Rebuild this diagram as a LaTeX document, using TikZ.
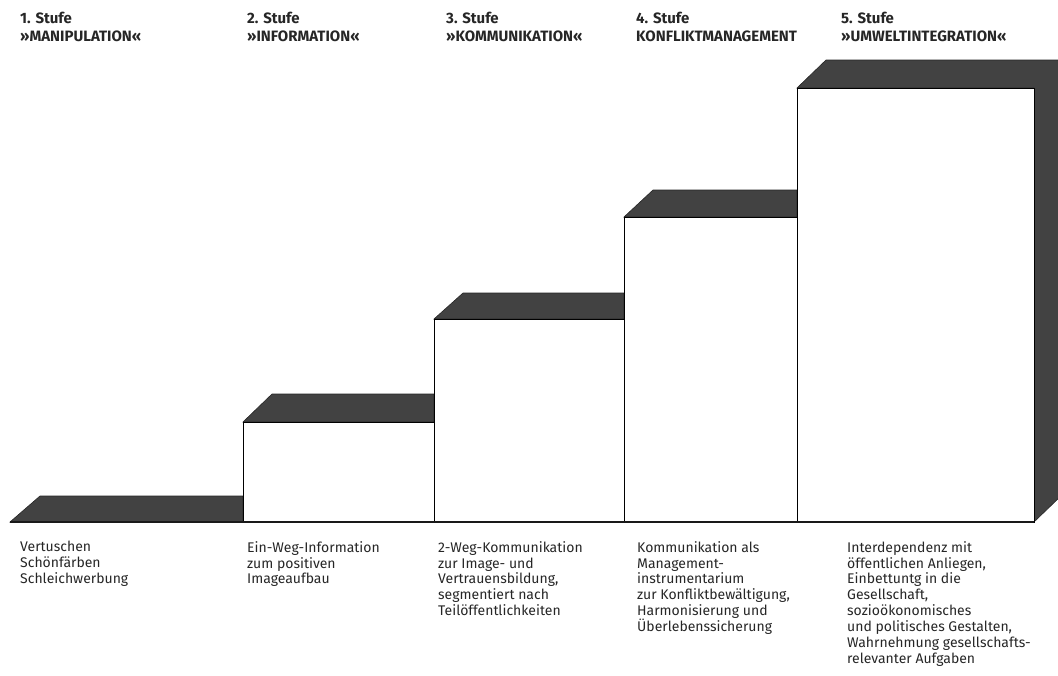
\documentclass[tikz,border=0pt]{standalone}
\usepackage{fontspec}
\setmainfont{Fira Sans}
\begin{document}
\begin{tikzpicture}[x=1pt,y=-1pt,
  topface/.style={fill=black!74,draw=black!85,line width=0.6pt},
  frontface/.style={fill=white,draw=black,line width=1pt},
  headlbl/.style={anchor=base west,inner sep=0pt,align=left,font=\fontsize{15}{18}\selectfont\bfseries,text=black!85},
  desclbl/.style={anchor=north west,inner sep=0pt,align=left,font=\fontsize{14}{15.9}\selectfont,text=black!85}]
\useasboundingbox (0,0) rectangle (1058,675);
\clip (0,0) rectangle (1058,675);
% step 1
\fill[topface] (10,522) -- (40,496) -- (243,496) -- (243,522) -- cycle;
% step 2
\fill[topface] (243,422) -- (272,394) -- (434,394) -- (434,422) -- cycle;
\draw[frontface] (243,522) rectangle (434,422);
% step 3
\fill[topface] (434,319) -- (463,293) -- (624,293) -- (624,319) -- cycle;
\draw[frontface] (434,522) rectangle (624,319);
% step 4
\fill[topface] (624,217) -- (653,190) -- (797,190) -- (797,217) -- cycle;
\draw[frontface] (624,522) rectangle (797,217);
% step 5
\fill[topface] (797,88) -- (826,60) -- (1063,60) -- (1063,494) -- (1034,522) -- (1034,88) -- cycle;
\draw[frontface] (797,522) rectangle (1034,88);
% ground line
\draw[line width=1.3pt,black!90] (10,522) -- (1034,522);
% headings (anchor base = baseline of the last line)
\node[headlbl] (h1) at (20,41) {1. Stufe\\»MANIPULATION«};
\node[headlbl] (h2) at (247,41) {2. Stufe\\»INFORMATION«};
\node[headlbl] (h3) at (446,41) {3. Stufe\\»KOMMUNIKATION«};
\node[headlbl] (h4) at (636,41) {4. Stufe\\KONFLIKTMANAGEMENT};
\node[headlbl] (h5) at (841,41) {5. Stufe\\»UMWELTINTEGRATION«};
% descriptions
\node[desclbl] (d1) at (20,541) {Vertuschen\\Schönfärben\\Schleichwerbung};
\node[desclbl] (d2) at (247,541) {Ein-Weg-Information\\zum positiven\\Imageaufbau};
\node[desclbl] (d3) at (438,541) {2-Weg-Kommunikation\\zur Image- und\\Vertrauensbildung,\\segmentiert nach\\Teilöffentlichkeiten};
\node[desclbl] (d4) at (637,541) {Kommunikation als\\Management-\\instrumentarium\\zur Konfliktbewältigung,\\Harmonisierung und\\Überlebenssicherung};
\node[desclbl] (d5) at (847,541) {Interdependenz mit\\öffentlichen Anliegen,\\Einbettuntg in die\\Gesellschaft,\\sozioökonomisches\\und politisches Gestalten,\\Wahrnehmung gesellschafts-\\relevanter Aufgaben};
\end{tikzpicture}
\end{document}
